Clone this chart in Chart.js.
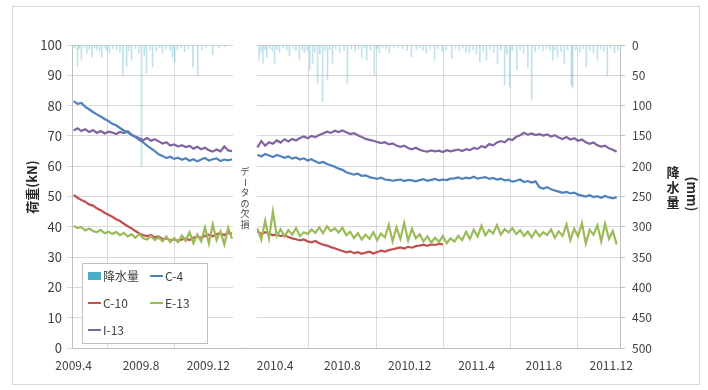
<!DOCTYPE html>
<html>
<head>
<meta charset="utf-8">
<script src="https://cdn.jsdelivr.net/npm/chart.js@4.4.1/dist/chart.umd.min.js"></script>
<style>
  html, body { margin: 0; background: #fff; }
</style>
</head>
<body>
<canvas id="chart" width="708" height="390"></canvas>
<script>
// x values are days after 2009-04-01, load readings sampled every 7 days
var tickLabels = ['2009.4', '2009.8', '2009.12', '2010.4', '2010.8', '2010.12', '2011.4', '2011.8', '2011.12'];
var seriesNames = ['C-4', 'C-10', 'E-13', 'I-13'];
var start1 = 0, start2 = 333, stepDays = 7;
var gapFrom = 289, gapTo = 332; // missing data

var c4_a = [81.5, 80.6, 80.9, 79.6, 78.8, 77.9, 77.1, 76.4, 75.6, 74.9, 74.0, 73.5, 72.6, 71.8, 71.2, 70.3, 69.6, 68.7, 67.9, 66.8,
            65.9, 65.0, 63.9, 63.4, 62.7, 63.1, 62.4, 62.8, 62.1, 62.6, 61.8, 62.3, 61.6, 62.2, 62.7, 61.9, 62.3, 62.6, 61.7, 62.2, 61.9, 62.3];
var c4_b = [63.8, 63.2, 64.0, 63.5, 63.0, 63.7, 63.3, 62.8, 63.2, 62.5, 62.9, 62.2, 62.6, 61.9, 62.3, 61.6, 61.0, 61.4, 60.7, 60.3,
            59.8, 59.2, 58.8, 58.0, 57.6, 57.2, 57.5, 56.8, 57.0, 56.4, 56.1, 55.8, 56.2, 55.6, 55.5, 55.2, 55.4, 55.6, 55.1, 55.5,
            55.3, 55.0, 55.4, 55.7, 55.2, 55.5, 55.8, 55.3, 55.6, 55.4, 55.9, 56.0, 56.3, 55.8, 56.2, 56.0, 56.5, 55.9, 56.2, 56.4,
            55.8, 56.1, 55.6, 55.9, 55.3, 55.5, 54.9, 55.2, 55.6, 54.8, 55.1, 54.6, 55.0, 53.0, 52.6, 53.1, 52.4, 52.0, 51.6, 51.2,
            51.5, 51.0, 51.3, 50.6, 50.3, 50.0, 50.4, 49.8, 50.1, 49.6, 50.2, 49.7, 49.4, 49.8];

var c10_a = [50.5, 49.6, 48.8, 48.3, 47.4, 47.0, 46.1, 45.5, 44.6, 44.0, 43.3, 42.5, 41.9, 41.0, 40.2, 39.5, 38.6, 37.8, 37.2, 36.9,
             37.3, 36.5, 36.8, 35.9, 36.2, 35.5, 35.9, 35.4, 35.8, 36.1, 35.6, 36.4, 36.8, 36.3, 37.0, 37.4, 36.9, 37.6, 37.8, 37.3, 38.0, 37.8];
var c10_b = [38.5, 37.6, 38.2, 37.8, 37.2, 37.5, 36.9, 37.3, 36.6, 36.2, 35.9, 35.5, 35.8, 35.2, 34.9, 35.3, 34.6, 34.1, 33.8, 33.3,
             32.9, 32.4, 32.0, 31.6, 31.9, 31.3, 31.6, 31.1, 31.5, 31.8, 31.2, 31.7, 32.1, 31.8, 32.3, 32.6, 32.9, 33.2, 32.8, 33.4,
             33.1, 33.6, 33.8, 34.1, 33.7, 34.2, 34.0, 34.4, 34.2];

var e13_a = [40.3, 39.6, 39.9, 38.8, 39.4, 38.6, 38.2, 39.0, 37.9, 38.4, 37.6, 38.3, 37.2, 38.0, 36.8, 37.5, 36.4, 37.6, 36.2, 35.8,
             37.0, 35.6, 36.5, 35.2, 36.8, 35.0, 36.3, 34.9, 37.1, 35.4, 38.2, 34.6, 37.5, 35.2, 39.8, 34.5, 40.8, 35.6, 38.5, 34.2, 39.6, 36.0];
var e13_b = [39.5, 35.8, 42.0, 36.2, 45.0, 37.0, 39.2, 36.8, 38.9, 37.4, 39.6, 36.9, 38.2, 37.6, 39.1, 38.0, 39.8, 37.9, 40.2, 38.6,
             39.5, 38.1, 39.7, 37.2, 38.4, 36.3, 37.9, 35.8, 37.4, 36.0, 38.2, 35.6, 37.8, 36.5, 40.6, 35.2, 39.8, 36.0, 41.2, 35.5,
             39.4, 36.2, 37.5, 35.2, 36.8, 34.8, 36.4, 35.0, 36.9, 34.6, 36.2, 35.1, 37.0, 35.6, 38.4, 36.0, 39.1, 36.8, 40.3, 37.2,
             39.0, 37.8, 40.6, 37.4, 39.2, 38.1, 39.5, 37.6, 38.9, 37.0, 38.4, 36.5, 38.7, 36.9, 38.2, 37.3, 39.1, 36.4, 38.5, 37.0,
             40.8, 35.6, 39.4, 36.8, 41.2, 34.5, 39.0, 37.4, 40.5, 35.2, 41.0, 36.0, 38.6, 34.2];

var i13_a = [71.8, 72.5, 71.6, 72.2, 71.3, 71.9, 71.0, 71.6, 70.8, 71.4, 71.1, 70.6, 71.3, 70.9, 71.5, 70.4, 69.8, 69.2, 68.6, 69.3,
             68.4, 68.9, 68.2, 67.5, 67.9, 66.8, 67.2, 66.5, 66.9, 66.3, 66.7, 65.8, 66.4, 65.6, 66.1, 65.3, 64.8, 65.5, 64.9, 66.5, 65.2, 65.0];
var i13_b = [66.2, 68.3, 66.8, 67.9, 67.4, 68.5, 67.8, 68.9, 68.2, 69.0, 68.5, 69.3, 69.8, 69.2, 70.0, 69.6, 70.3, 70.8, 71.4, 71.0,
             71.7, 71.3, 71.8, 71.2, 70.6, 70.9, 70.2, 69.6, 69.0, 68.7, 68.4, 68.0, 67.6, 67.9, 67.2, 67.5, 66.8, 66.4, 66.8, 66.0,
             65.6, 66.1, 65.4, 65.0, 64.8, 65.2, 64.9, 65.1, 64.7, 65.3, 64.9, 65.2, 65.5, 65.0, 65.6, 65.3, 66.0, 65.7, 66.6, 66.2,
             67.3, 66.9, 67.8, 68.3, 67.9, 69.0, 68.6, 69.7, 70.2, 71.0, 70.4, 70.8, 70.3, 70.6, 70.1, 70.5, 69.8, 70.2, 69.5, 69.0,
             69.6, 68.8, 69.2, 68.4, 68.8, 67.9, 67.4, 67.8, 66.9, 66.5, 66.8, 65.9, 65.4, 64.8];

// daily rainfall (mm), days after 2009-04-01
var rainDay = [2, 7, 10, 14, 19, 24, 28, 33, 38, 42, 47, 51, 56, 60, 65, 71, 78, 84, 89, 96, 100, 105, 112, 118, 123, 128, 132, 138, 143, 150,
               156, 161, 167, 175, 179, 183, 188, 195, 201, 208, 216, 225, 232, 240, 252, 263, 275,
               336, 340, 343, 347, 350, 355, 360, 364, 368, 373, 380, 386, 391, 398, 403, 409, 414, 418, 423, 428, 433, 437, 442, 446,
               451, 455, 460, 464, 469, 475, 482, 490, 496, 503, 510, 516, 522, 527, 531, 538, 545, 550, 554, 560, 566, 572, 580, 588,
               596, 604, 612, 621, 627, 633, 639, 646, 654, 660, 668, 675, 685, 692, 699, 705, 711, 717, 724, 730, 736, 742, 748, 754,
               761, 768, 774, 781, 785, 790, 795, 803, 809, 815, 823, 830, 836, 843, 850, 857, 863, 868, 872, 877, 883, 889, 895, 902,
               904, 910, 917, 923, 929, 935, 942, 949, 955, 961, 967, 973, 980, 986];
var rainMm = [5, 36, 6, 25, 4, 13, 7, 20, 5, 8, 10, 20, 4, 9, 13, 6, 8, 12, 50, 36, 9, 25, 6, 14, 200, 18, 46, 8, 36, 10,
              5, 13, 7, 9, 20, 28, 8, 5, 11, 6, 36, 50, 8, 4, 16, 5, 3,
              25, 12, 30, 8, 20, 6, 10, 30, 7, 12, 5, 9, 18, 6, 10, 25, 8, 13, 9, 41, 30, 12, 63, 15,
              94, 10, 58, 8, 30, 7, 12, 9, 63, 6, 10, 7, 20, 5, 25, 8, 50, 6, 13, 4, 7, 13, 5, 4,
              6, 9, 20, 8, 5, 9, 13, 7, 25, 6, 10, 8, 22, 6, 9, 5, 12, 13, 8, 15, 28, 10, 25, 8,
              12, 30, 9, 66, 15, 69, 10, 41, 8, 14, 36, 91, 12, 7, 10, 6, 9, 25, 8, 20, 11, 30, 9, 66,
              71, 8, 12, 6, 36, 9, 14, 25, 7, 10, 50, 6, 13, 8];

var colors = { 'C-4': '#4F81BD', 'C-10': '#C0504D', 'E-13': '#9BBB59', 'I-13': '#8064A2' };
var rainColor = '#4BACC6';

function dayOf(label) {
  var p = label.split('.');
  return Math.round((new Date(+p[0], +p[1] - 1, 1) - new Date(2009, 3, 1)) / 86400000);
}
var tickDays = tickLabels.map(dayOf);

function pts(a, b) {
  var out = a.map(function(v, i) { return { x: start1 + i * stepDays, y: v }; });
  out.push({ x: (gapFrom + gapTo) / 2, y: null });
  return out.concat(b.map(function(v, i) { return { x: start2 + i * stepDays, y: v }; }));
}

var loads = { 'C-4': pts(c4_a, c4_b), 'C-10': pts(c10_a, c10_b), 'E-13': pts(e13_a, e13_b), 'I-13': pts(i13_a, i13_b) };
var drawOrder = { 'C-4': 3, 'C-10': 2, 'E-13': 1, 'I-13': 4 };

Chart.defaults.font.family = '"Noto Sans CJK JP", "Noto Sans", sans-serif';
Chart.defaults.color = '#404040';

var datasets = [{
  type: 'bar',
  label: '降水量',
  data: rainDay.map(function(d, i) { return { x: d, y: rainMm[i] }; }),
  yAxisID: 'y2',
  backgroundColor: 'rgba(75,172,198,0.35)',
  barThickness: 1,
  grouped: false,
  order: 10
}];
seriesNames.forEach(function(name) {
  datasets.push({
    label: name,
    data: loads[name],
    yAxisID: 'y',
    borderColor: colors[name],
    borderWidth: 2.2,
    pointRadius: 0,
    spanGaps: false,
    order: drawOrder[name]
  });
});

var decor = {
  id: 'decor',
  beforeDatasetsDraw: function(chart) {
    var ctx = chart.ctx, a = chart.chartArea, x = chart.scales.x;
    var x1 = x.getPixelForValue(gapFrom), x2 = x.getPixelForValue(gapTo);
    ctx.save();
    ctx.fillStyle = '#fff';
    ctx.fillRect(x1, a.top - 1, x2 - x1, a.bottom - a.top);
    ctx.restore();
  },
  afterDraw: function(chart) {
    var ctx = chart.ctx, x = chart.scales.x;
    ctx.save();
    // outer frame
    ctx.strokeStyle = '#d9d9d9';
    ctx.lineWidth = 1;
    ctx.strokeRect(12.5, 6.5, 687, 378);

    // left axis title
    ctx.fillStyle = '#262626';
    ctx.font = 'bold 13px "Noto Sans CJK JP"';
    ctx.textAlign = 'center';
    ctx.textBaseline = 'middle';
    ctx.save();
    ctx.translate(32, 187);
    ctx.rotate(-Math.PI / 2);
    ctx.fillText('荷重(kN)', 0, 0);
    ctx.restore();

    // right axis title
    '降水量'.split('').forEach(function(ch, i) { ctx.fillText(ch, 673, 172 + i * 15); });
    ctx.save();
    ctx.translate(692, 194);
    ctx.rotate(Math.PI / 2);
    ctx.fillText('(mm)', 0, 0);
    ctx.restore();

    // missing data note
    var gx = (x.getPixelForValue(gapFrom) + x.getPixelForValue(gapTo)) / 2;
    ctx.font = '9px "Noto Sans CJK JP"';
    ctx.fillStyle = '#404040';
    'データの欠損'.split('').forEach(function(ch, i) {
      var cy = 172 + i * 10.5;
      if (ch === 'ー') {
        ctx.save(); ctx.translate(gx, cy); ctx.rotate(Math.PI / 2); ctx.fillText(ch, 0, 0); ctx.restore();
      } else {
        ctx.fillText(ch, gx, cy);
      }
    });

    // legend
    ctx.fillStyle = '#fff';
    ctx.fillRect(82, 263, 125, 80);
    ctx.strokeStyle = '#bfbfbf';
    ctx.strokeRect(82.5, 263.5, 125, 80);
    var items = [
      { label: '降水量', x: 88, y: 276, box: true },
      { label: 'C-4', x: 150, y: 276 },
      { label: 'C-10', x: 88, y: 303 },
      { label: 'E-13', x: 150, y: 303 },
      { label: 'I-13', x: 88, y: 330 }
    ];
    ctx.font = '12px "Noto Sans CJK JP"';
    ctx.textAlign = 'left';
    items.forEach(function(it) {
      if (it.box) {
        ctx.fillStyle = rainColor;
        ctx.fillRect(it.x, it.y - 4, 13, 8);
      } else {
        ctx.strokeStyle = colors[it.label];
        ctx.lineWidth = 2;
        ctx.beginPath(); ctx.moveTo(it.x, it.y); ctx.lineTo(it.x + 13, it.y); ctx.stroke();
      }
      ctx.fillStyle = '#404040';
      ctx.fillText(it.label, it.x + 15, it.y);
    });
    ctx.restore();
  }
};

new Chart(document.getElementById('chart').getContext('2d'), {
  type: 'line',
  data: { datasets: datasets },
  options: {
    responsive: false,
    animation: false,
    layout: { padding: { top: 45 } },
    plugins: { legend: { display: false }, tooltip: { enabled: false } },
    scales: {
      x: {
        type: 'linear',
        min: -3,
        max: 990,
        offset: false,
        afterBuildTicks: function(s) { s.ticks = tickDays.map(function(v) { return { value: v }; }); },
        afterFit: function(s) { s.height = 42; },
        ticks: {
          autoSkip: false,
          maxRotation: 0,
          padding: 10,
          font: { size: 12 },
          callback: function(v) { return tickLabels[tickDays.indexOf(v)]; }
        },
        grid: { color: '#d9d9d9', drawTicks: false },
        border: { color: '#bfbfbf' }
      },
      y: {
        position: 'left',
        min: 0,
        max: 100,
        afterFit: function(s) { s.width = 72; },
        ticks: { stepSize: 10, padding: 5, font: { size: 13 } },
        grid: { color: '#d9d9d9', tickLength: 5 },
        border: { color: '#bfbfbf' }
      },
      y2: {
        position: 'right',
        reverse: true,
        min: 0,
        max: 500,
        afterFit: function(s) { s.width = 88; },
        ticks: { stepSize: 50, padding: 7, font: { size: 12 } },
        grid: { drawOnChartArea: false, color: '#bfbfbf', tickLength: 5 },
        border: { color: '#bfbfbf' }
      }
    }
  },
  plugins: [decor]
});
</script>
</body>
</html>
